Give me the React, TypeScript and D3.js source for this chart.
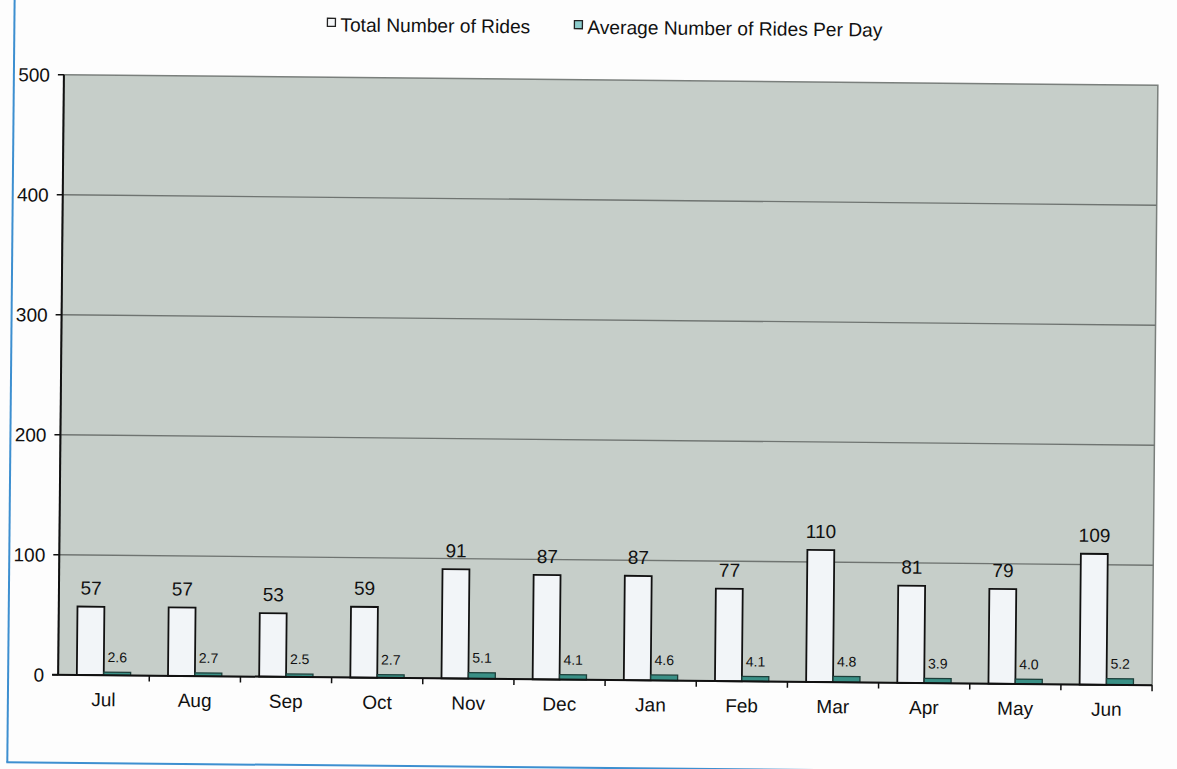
import React from "react";
import * as d3 from "d3";

const months = ["Jul", "Aug", "Sep", "Oct", "Nov", "Dec", "Jan", "Feb", "Mar", "Apr", "May", "Jun"];
const totalRides = [57, 57, 53, 59, 91, 87, 87, 77, 110, 81, 79, 109];
const avgRides = [2.6, 2.7, 2.5, 2.7, 5.1, 4.1, 4.6, 4.1, 4.8, 3.9, 4.0, 5.2];
const yTicks = [0, 100, 200, 300, 400, 500];
const seriesNames = ["Total Number of Rides", "Average Number of Rides Per Day"];

const W = 1177, H = 769;
const L = 61, R = 1155, T = 80, B = 680;
const FONT = "'Liberation Sans', Arial, Helvetica, sans-serif";

export default function App() {
  const x = d3.scaleBand<string>().domain(months).range([L, R]).padding(0);
  const y = d3.scaleLinear().domain([0, 500]).range([B, T]);
  const bw = x.bandwidth() * 0.295;

  return (
    <svg width={W} height={H} style={{ position: "absolute", left: 0, top: 0, background: "#fdfdfd" }}>
      <g transform={`rotate(0.55, 609, 380)`} fontFamily={FONT}>
        {/* page frame lines */}
        <line x1={11} x2={11} y1={-20} y2={768} stroke="#3d8fd0" strokeWidth={2} />
        <line x1={10} x2={1200} y1={768} y2={768} stroke="#3d8fd0" strokeWidth={2} />

        {/* legend */}
        <rect x={324} y={21} width={8} height={8} fill="#f4f6f8" stroke="#222" strokeWidth={1.3} />
        <text x={337} y={34} fontSize={19.2} fill="#111">{seriesNames[0]}</text>
        <rect x={571} y={21} width={8} height={8} fill="#8ccccc" stroke="#222" strokeWidth={1.3} />
        <text x={584} y={34} fontSize={19.2} fill="#111">{seriesNames[1]}</text>

        {/* plot area */}
        <rect x={L} y={T} width={R - L} height={B - T} fill="#c6cec9" stroke="#7a7f7c" strokeWidth={1.5} />
        {yTicks.filter(t => t > 0 && t < 500).map(t => (
          <line key={t} x1={L} x2={R} y1={y(t)} y2={y(t)} stroke="#6f7471" strokeWidth={1.3} />
        ))}

        {/* bars */}
        {months.map((m, i) => {
          const cx = (x(m) as number) + x.bandwidth() / 2;
          const tv = totalRides[i], av = avgRides[i];
          return (
            <g key={m}>
              <rect x={cx - bw} y={y(tv)} width={bw} height={B - y(tv)} fill="#f2f5f8" stroke="#111" strokeWidth={1.8} />
              <rect x={cx} y={y(av)} width={bw} height={B - y(av)} fill="#3a9086" stroke="#1d3f3a" strokeWidth={1.3} />
              <text x={cx - bw / 2} y={y(tv) - 12} textAnchor="middle" fontSize={19} fill="#111">{tv}</text>
              <text x={cx + bw / 2} y={y(av) - 10} textAnchor="middle" fontSize={14} fill="#111">{av.toFixed(1)}</text>
            </g>
          );
        })}

        {/* axes */}
        <line x1={L} x2={L} y1={T} y2={B} stroke="#111" strokeWidth={2} />
        <line x1={L - 6} x2={R} y1={B} y2={B} stroke="#111" strokeWidth={2} />
        {yTicks.map(t => (
          <g key={t}>
            <line x1={L - 6} x2={L} y1={y(t)} y2={y(t)} stroke="#111" strokeWidth={1.5} />
            <text x={47} y={y(t) + 7} textAnchor="end" fontSize={19} fill="#111">{t}</text>
          </g>
        ))}
        {months.map((m) => (
          <line key={m} x1={(x(m) as number) + x.bandwidth()} x2={(x(m) as number) + x.bandwidth()} y1={B} y2={B + 6} stroke="#111" strokeWidth={1.5} />
        ))}
        {months.map(m => (
          <text key={m} x={(x(m) as number) + x.bandwidth() / 2} y={711} textAnchor="middle" fontSize={19} fill="#111">{m}</text>
        ))}
      </g>
    </svg>
  );
}
